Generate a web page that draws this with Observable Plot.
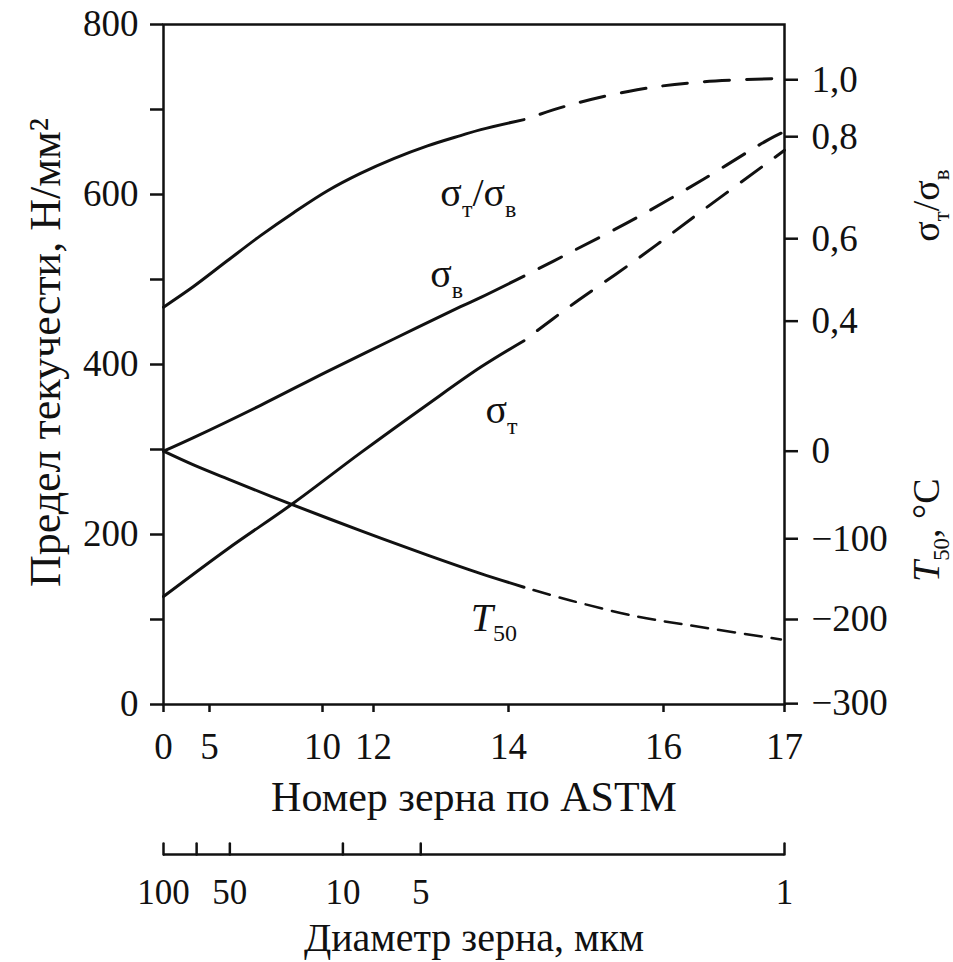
<!DOCTYPE html>
<html><head><meta charset="utf-8">
<script src="https://cdn.jsdelivr.net/npm/d3@7"></script>
<script src="https://cdn.jsdelivr.net/npm/@observablehq/plot@0.6"></script>
<style>body{margin:0;background:#fff} svg{display:block}</style>
</head><body><div id="chart"></div>
<script>
// ---- axis data ----
const astmTicks = [0, 5, 10, 12, 14, 16, 17];                 // Номер зерна по ASTM
const stressTicks = [0, 100, 200, 300, 400, 500, 600, 700, 800]; // Н/мм²
const stressLabels = ["0", "", "200", "", "400", "", "600", "", "800"];
const ratioTicks = [0.4, 0.6, 0.8, 1.0];                       // σт/σв
const ratioLabels = ["0,4", "0,6", "0,8", "1,0"];
const ratioTickAt = [451, 548, 668, 735];                      // same level on the left (Н/мм²) axis
const t50Ticks = [-300, -200, -100, 0];                        // T50, °C
const t50Labels = ["−300", "−200", "−100", "0"];
const t50TickAt = [1, 100, 195, 298];                          // same level on the left axis
const diamLabels = ["100", "", "50", "10", "5", "1"];          // Диаметр зерна, мкм
const diamAtAstm = [0, 3.6, 5.9, 10.8, 12.7, 17];

// ---- series (x = ASTM grain number) ----
const ratioX = [0, 3.26, 5.8, 7.26, 8.72, 10.2, 11.49, 12.3, 12.8, 13.29, 13.59, 14.2, 14.8, 15.66, 16.33, 17];
const ratioY = [0.434, 0.484, 0.547, 0.606, 0.651, 0.694, 0.728, 0.757, 0.782, 0.804, 0.825, 0.86, 0.912, 0.965, 0.993, 1.005];
const sigmaBX = [0, 3.26, 7.26, 10.2, 12.3, 13.29, 13.59, 14.2, 14.8, 15.66, 16.33, 16.86, 17];
const sigmaBY = [298, 314, 352, 392, 430, 468, 479, 504, 532, 573, 618, 664, 674];
const sigmaTX = [0, 5.8, 8.72, 11.49, 12.8, 13.59, 14.2, 14.8, 15.66, 16.33, 17];
const sigmaTY = [127, 183, 237, 296, 353, 397, 428, 469, 524, 582, 652];
const t50X = [0, 3.26, 5.8, 8.72, 11.49, 12.8, 13.59, 14.2, 14.8, 15.66, 16.33, 16.97];
const t50Y = [0, -15.7, -31.7, -61.6, -90.7, -120.2, -143.1, -160, -176.4, -196.3, -209.5, -223.7];
const dashFrom = 14.2; // beyond this the curves are extrapolated (dashed)

// ---- annotation texts ----
const curveLabelText = ["σ_{т}/σ_{в}", "σ_{в}", "σ_{т}", "*{T}_{50}"];
const curveLabelX = [12.99, 12.84, 13.66, 13.44];
const curveLabelY = [586, 491, 331, 87];
const rightTitleText = ["σ_{т}/σ_{в}", "*{T}_{50}, °C"];
const rightTitleY = [587, 205];

// ---- build tables ----
const ratioToL = d3.scaleLinear().domain(ratioTicks).range(ratioTickAt);
const tToL = d3.scaleLinear().domain(t50Ticks).range(t50TickAt);
const series = [
  {name: "ratio", xs: ratioX, vs: ratioY.map(ratioToL)},
  {name: "sb", xs: sigmaBX, vs: sigmaBY},
  {name: "st", xs: sigmaTX, vs: sigmaTY},
  {name: "t50", xs: t50X, vs: t50Y.map(tToL)}
];
const rows = series.flatMap(s => s.xs.map((x, i) => ({series: s.name, x, v: s.vs[i]})));
const solid = rows.filter(d => d.x <= dashFrom);
const dashedMain = rows.filter(d => d.x >= dashFrom && d.series !== "t50");
const dashedT = rows.filter(d => d.x >= dashFrom && d.series === "t50");

const rightTickAt = [...ratioTickAt, ...t50TickAt];
const rightTickLabels = [...ratioLabels, ...t50Labels];
const diamRows = diamAtAstm.map((a, i) => ({astm: a, label: diamLabels[i]}));
const curveLabels = curveLabelText.map((t, i) => ({text: t, x: curveLabelX[i], v: curveLabelY[i]}));
const rightTitles = rightTitleText.map((t, i) => ({text: t, v: rightTitleY[i]}));

const tickShape = {draw(ctx, l) { ctx.moveTo(0, 0); ctx.lineTo(0, -l); }};
const ink = "#111";

const chart = Plot.plot({
  width: 953, height: 962,
  marginLeft: 163, marginRight: 169, marginTop: 24, marginBottom: 258,
  style: {fontFamily: "'Liberation Serif', 'DejaVu Serif', serif", fontSize: "37px", color: ink, background: "#fff"},
  x: {type: "linear", domain: astmTicks, range: [163, 209, 322, 373, 508, 663, 784], axis: null},
  y: {domain: [0, 800], axis: null},
  marks: [
    Plot.frame({stroke: ink, strokeWidth: 2.5}),
    Plot.axisY({anchor: "left", ticks: stressTicks, tickFormat: d => stressLabels[stressTicks.indexOf(d)],
      tickSize: 13, tickPadding: 12, strokeWidth: 2.5, fill: ink, fontSize: 37, label: null}),
    Plot.axisY({anchor: "right", ticks: rightTickAt, tickFormat: d => rightTickLabels[rightTickAt.indexOf(d)],
      tickSize: 13, tickPadding: 14, strokeWidth: 2.5, fill: ink, fontSize: 37, label: null}),
    Plot.axisX({anchor: "bottom", ticks: astmTicks, tickFormat: d => String(d),
      tickSize: 8, tickPadding: 20, strokeWidth: 2.5, fill: ink, fontSize: 37, label: null}),
    // curves
    Plot.line(solid, {x: "x", y: "v", z: "series", curve: "catmull-rom", stroke: ink, strokeWidth: 3}),
    Plot.line(dashedMain, {x: "x", y: "v", z: "series", curve: "catmull-rom", stroke: ink, strokeWidth: 3,
      strokeDasharray: "25,17", strokeDashoffset: 25}),
    Plot.line(dashedT, {x: "x", y: "v", z: "series", curve: "catmull-rom", stroke: ink, strokeWidth: 2.5,
      strokeDasharray: "17,10", strokeDashoffset: 17}),
    // curve labels
    Plot.text(curveLabels, {x: "x", y: "v", text: "text", textAnchor: "start", lineAnchor: "bottom", fontSize: 40, fill: ink}),
    // axis titles
    Plot.text(["Предел текучести, Н/мм²"], {frameAnchor: "left", textAnchor: "middle", dx: -118, dy: -12, rotate: -90,
      lineAnchor: "middle", fontSize: 44, fill: ink}),
    Plot.text(rightTitles, {y: "v", text: "text", frameAnchor: "right", textAnchor: "middle", dx: 142, rotate: -90,
      lineAnchor: "middle", fontSize: 38, fill: ink}),
    Plot.text(["Номер зерна по ASTM"], {frameAnchor: "bottom", dy: 106, lineAnchor: "bottom", fontSize: 42, fill: ink}),
    // grain diameter scale
    Plot.ruleY([0], {dy: 150, stroke: ink, strokeWidth: 2.5}),
    Plot.vector(diamRows, {x: "astm", frameAnchor: "bottom", length: 11, anchor: "start", shape: tickShape,
      dy: 150, stroke: ink, strokeWidth: 2.5}),
    Plot.text(diamRows.filter(d => d.label), {x: "astm", text: "label", frameAnchor: "bottom", dy: 199,
      lineAnchor: "bottom", fontSize: 35, fill: ink}),
    Plot.text(["Диаметр зерна, мкм"], {frameAnchor: "bottom", dy: 246, lineAnchor: "bottom", fontSize: 40, fill: ink})
  ]
});
document.getElementById("chart").appendChild(chart);

// rich text: _{..} subscript, *{..} italic
const NS = "http://www.w3.org/2000/svg";
for (const t of chart.querySelectorAll("text")) {
  const s = t.textContent;
  if (!/[_*]\{/.test(s) || t.querySelector("tspan")) continue;
  const fs = parseFloat(getComputedStyle(t).fontSize) || 37;
  t.textContent = "";
  let shifted = false;
  const re = /_\{([^}]*)\}|\*\{([^}]*)\}|([^_*]+)/g;
  let m;
  while ((m = re.exec(s))) {
    const ts = document.createElementNS(NS, "tspan");
    if (m[1] !== undefined) {
      ts.textContent = m[1];
      ts.setAttribute("font-size", (fs * 0.6) + "px");
      if (!shifted) { ts.setAttribute("dy", fs * 0.26); shifted = true; }
    } else {
      ts.textContent = m[2] !== undefined ? m[2] : m[3];
      if (m[2] !== undefined) ts.setAttribute("font-style", "italic");
      if (shifted) { ts.setAttribute("dy", -fs * 0.26); shifted = false; }
    }
    t.appendChild(ts);
  }
}
</script></body></html>
